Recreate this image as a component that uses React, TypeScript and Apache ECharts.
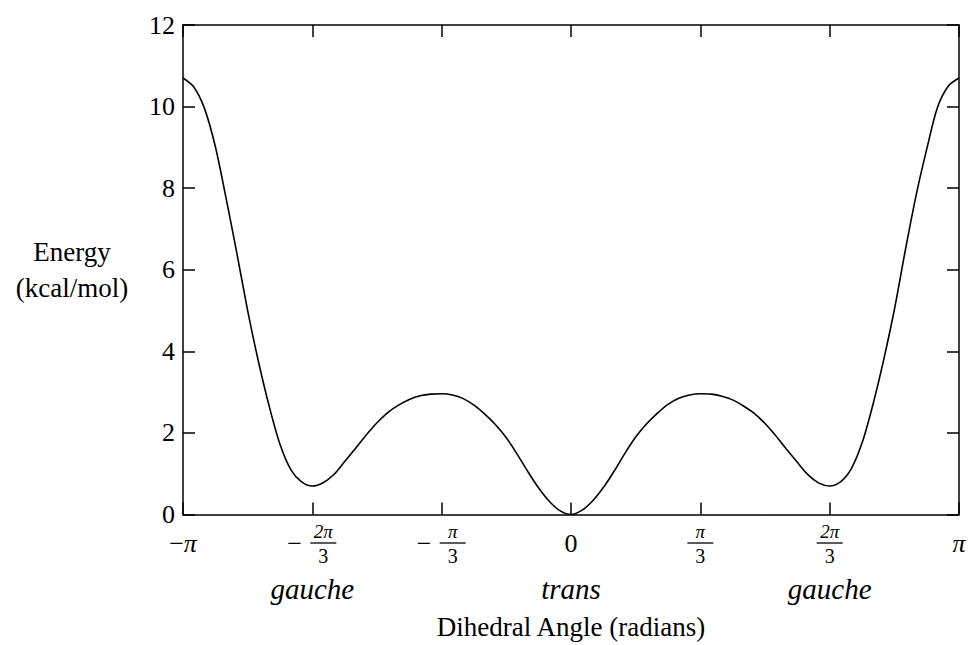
import React, { useEffect, useRef } from "react";
import * as echarts from "echarts";

// Dihedral angle in degrees (plotted on an axis labelled in radians)
const angleDeg = [
  -180, -175, -170, -165, -160, -155, -150, -145, -140, -135, -130, -125, -120,
  -115, -110, -105, -100, -95, -90, -85, -80, -75, -70, -65, -60,
  -55, -50, -45, -40, -35, -30, -25, -20, -15, -10, -5, 0,
  5, 10, 15, 20, 25, 30, 35, 40, 45, 50, 55, 60,
  65, 70, 75, 80, 85, 90, 95, 100, 105, 110, 115, 120,
  125, 130, 135, 140, 145, 150, 155, 160, 165, 170, 175, 180,
];

// Energy (kcal/mol)
const energy = [
  10.7, 10.48, 9.95, 9.02, 7.75, 6.4, 5.0, 3.75, 2.65, 1.72, 1.1, 0.8, 0.7,
  0.78, 0.98, 1.3, 1.62, 1.95, 2.25, 2.5, 2.68, 2.82, 2.91, 2.95, 2.96,
  2.93, 2.84, 2.68, 2.46, 2.2, 1.88, 1.48, 1.05, 0.65, 0.32, 0.09, 0.0,
  0.1, 0.33, 0.66, 1.06, 1.5, 1.9, 2.22, 2.48, 2.7, 2.85, 2.93, 2.96,
  2.95, 2.9, 2.81, 2.66, 2.48, 2.23, 1.93, 1.6, 1.28, 0.97, 0.77, 0.7,
  0.8, 1.12, 1.75, 2.68, 3.78, 5.02, 6.45, 7.8, 8.95, 9.98, 10.5, 10.7,
];

// Tick labels of the angle axis (value in degrees -> radian label)
const tickAngles = [-180, -120, -60, 0, 60, 120, 180];
const tickLabels = [
  "{big|−}{bigi|π}",
  "{blank| }{num|2π}\n{m|−}{bar| }\n{blank| }{den|3}",
  "{blank| }{numi|π}\n{m|−}{bar| }\n{blank| }{den|3}",
  "{big|0}",
  "{numi|π}\n{bar| }\n{den|3}",
  "{num|2π}\n{bar| }\n{den|3}",
  "{bigi|π}",
];

// Conformer names under the angle axis
const conformerAngles = [-120, 0, 120];
const conformerNames = ["gauche", "trans", "gauche"];

const yTicks = { min: 0, max: 12, interval: 2 };

const FONT = "'Liberation Serif', 'Times New Roman', serif";

export default function App() {
  const ref = useRef<HTMLDivElement>(null);

  useEffect(() => {
    if (!ref.current) return;
    const chart = echarts.init(ref.current, null, { renderer: "svg" });
    const axisLine = { show: true, onZero: false, lineStyle: { color: "#000", width: 1.5 } };
    const tickIn = { show: true, inside: true, length: 12, lineStyle: { color: "#000", width: 1.5 } };

    const rich = {
      big: { fontSize: 26, fontFamily: FONT, color: "#000" },
      bigi: { fontSize: 26, fontFamily: FONT, fontStyle: "italic", color: "#000" },
      numi: { fontSize: 19, fontFamily: FONT, fontStyle: "italic", color: "#000", width: 28, align: "center", lineHeight: 18 },
      num: { fontSize: 19, fontFamily: FONT, fontStyle: "italic", color: "#000", width: 28, align: "center", lineHeight: 18 },
      den: { fontSize: 20, fontFamily: FONT, color: "#000", width: 28, align: "center", lineHeight: 19 },
      bar: { width: 26, height: 1.3, lineHeight: 6, fontSize: 1, backgroundColor: "#000" },
      m: { fontSize: 26, fontFamily: FONT, color: "#000", width: 22, lineHeight: 6, align: "left" },
      blank: { width: 22, fontSize: 1, lineHeight: 6 },
    };

    chart.setOption({
      animation: false,
      backgroundColor: "#fff",
      grid: { left: 183, right: 10, top: 25, bottom: 126, containLabel: false },
      xAxis: [
        {
          type: "value",
          position: "bottom",
          min: -180,
          max: 180,
          interval: 60,
          axisLine,
          axisTick: tickIn,
          splitLine: { show: false },
          axisLabel: {
            margin: 29,
            verticalAlign: "middle",
            color: "#000",
            fontFamily: FONT,
            fontSize: 26,
            showMinLabel: true,
            showMaxLabel: true,
            formatter: (v: number) => {
              const i = tickAngles.indexOf(Math.round(v));
              return i >= 0 ? tickLabels[i] : "";
            },
            rich,
          },
          name: "Dihedral Angle (radians)",
          nameLocation: "middle",
          nameGap: 112,
          nameTextStyle: { fontFamily: FONT, fontSize: 27, color: "#000", verticalAlign: "middle" },
        },
        {
          type: "value",
          position: "bottom",
          min: -180,
          max: 180,
          interval: 60,
          axisLine: { show: false, onZero: false },
          axisTick: { show: false },
          splitLine: { show: false },
          axisLabel: {
            margin: 74,
            verticalAlign: "middle",
            color: "#000",
            fontFamily: FONT,
            fontStyle: "italic",
            fontSize: 29,
            showMinLabel: true,
            showMaxLabel: true,
            formatter: (v: number) => {
              const i = conformerAngles.indexOf(Math.round(v));
              return i >= 0 ? conformerNames[i] : "";
            },
          },
        },
        {
          type: "value",
          position: "top",
          min: -180,
          max: 180,
          interval: 60,
          axisLine,
          axisTick: tickIn,
          axisLabel: { show: false },
          splitLine: { show: false },
        },
      ],
      yAxis: [
        {
          type: "value",
          position: "left",
          ...yTicks,
          axisLine,
          axisTick: tickIn,
          splitLine: { show: false },
          axisLabel: { margin: 8, color: "#000", fontFamily: FONT, fontSize: 26 },
          name: "Energy\n(kcal/mol)",
          nameLocation: "middle",
          nameRotate: 0,
          nameGap: 111,
          nameTextStyle: {
            fontFamily: FONT,
            fontSize: 27,
            color: "#000",
            align: "center",
            verticalAlign: "middle",
            lineHeight: 36,
          },
        },
        {
          type: "value",
          position: "right",
          ...yTicks,
          axisLine,
          axisTick: tickIn,
          axisLabel: { show: false },
          splitLine: { show: false },
        },
      ],
      series: [
        {
          type: "line",
          xAxisIndex: 0,
          yAxisIndex: 0,
          data: angleDeg.map((a, i) => [a, energy[i]]),
          showSymbol: false,
          smooth: 0.3,
          lineStyle: { color: "#000", width: 1.6 },
        },
      ],
    });
    return () => chart.dispose();
  }, []);

  return (
    <div
      ref={ref}
      style={{ position: "fixed", left: 0, top: 0, width: 969, height: 645, background: "#fff" }}
    />
  );
}
